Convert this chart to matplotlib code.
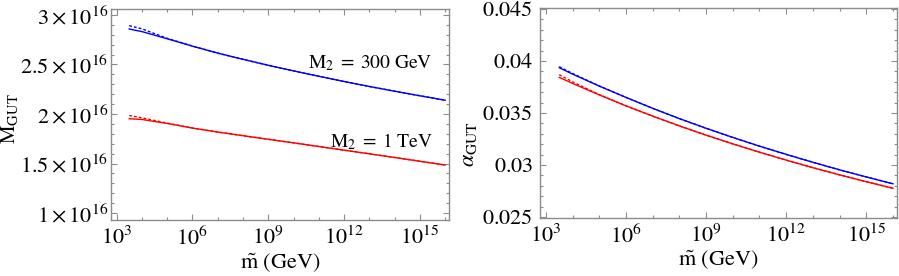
import matplotlib
matplotlib.use("Agg")
import matplotlib.pyplot as plt
from matplotlib.ticker import FixedLocator, FixedFormatter, MultipleLocator, LogLocator, NullFormatter
import numpy as np

plt.rcParams["font.family"] = ["Liberation Serif", "DejaVu Serif"]
plt.rcParams["mathtext.fontset"] = "stix"

# log10 of m-tilde (GeV)
LOG_M = [3.5, 4, 5, 6, 7, 8, 9, 10, 11, 12, 13, 14, 15, 16]

# M_GUT in units of 1e16 GeV
MGUT_300_SOLID = [2.858, 2.832, 2.760, 2.685, 2.615, 2.552, 2.492, 2.435, 2.381, 2.328, 2.278, 2.230, 2.184, 2.139]
MGUT_300_DASHED = [2.892, 2.860, 2.764, 2.686, 2.615, 2.552, 2.492, 2.435, 2.381, 2.328, 2.278, 2.230, 2.184, 2.139]
MGUT_1TEV_SOLID = [1.952, 1.945, 1.905, 1.858, 1.818, 1.781, 1.745, 1.709, 1.672, 1.635, 1.598, 1.561, 1.523, 1.485]
MGUT_1TEV_DASHED = [1.985, 1.962, 1.908, 1.859, 1.818, 1.781, 1.745, 1.709, 1.672, 1.635, 1.598, 1.561, 1.523, 1.485]

# alpha_GUT
ALPHA_300_SOLID = [0.03936, 0.03874, 0.03759, 0.03650, 0.03545, 0.03446, 0.03353, 0.03265, 0.03181, 0.03102, 0.03026, 0.02953, 0.02885, 0.02819]
ALPHA_300_DASHED = [0.03945, 0.03880, 0.03760, 0.03650, 0.03545, 0.03446, 0.03353, 0.03265, 0.03181, 0.03102, 0.03026, 0.02953, 0.02885, 0.02819]
ALPHA_1TEV_SOLID = [0.03843, 0.03785, 0.03674, 0.03569, 0.03470, 0.03376, 0.03287, 0.03203, 0.03123, 0.03047, 0.02974, 0.02905, 0.02839, 0.02776]
ALPHA_1TEV_DASHED = [0.03868, 0.03800, 0.03677, 0.03569, 0.03470, 0.03376, 0.03287, 0.03203, 0.03123, 0.03047, 0.02974, 0.02905, 0.02839, 0.02776]

X_TICKS = [1e3, 1e6, 1e9, 1e12, 1e15]
X_TICK_LABELS = [r"$10^{3}$", r"$10^{6}$", r"$10^{9}$", r"$10^{12}$", r"$10^{15}$"]
MGUT_TICKS = [1.0, 1.5, 2.0, 2.5, 3.0]
MGUT_TICK_LABELS = [r"$1\times10^{16}$", r"$1.5\times10^{16}$", r"$2\times10^{16}$",
                    r"$2.5\times10^{16}$", r"$3\times10^{16}$"]
ALPHA_TICKS = [0.025, 0.03, 0.035, 0.04, 0.045]
ALPHA_TICK_LABELS = [r"$0.025$", r"$0.03$", r"$0.035$", r"$0.04$", r"$0.045$"]

FRAME = "#8c8c8c"
BLUE = "#0000ff"
RED = "#ff0000"
DASH = (0, (2, 1.5))

m = 10.0 ** np.array(LOG_M)

fig = plt.figure(figsize=(8.99, 2.76), dpi=100)
ax1 = fig.add_axes([111 / 899, 1 - 220 / 276, 338 / 899, 211 / 276])
ax2 = fig.add_axes([540 / 899, 1 - 218 / 276, 357 / 899, 210 / 276])


def style_axis(ax):
    ax.set_xscale("log")
    ax.set_xlim(10 ** 2.78, 10 ** 16.15)
    ax.xaxis.set_major_locator(FixedLocator(X_TICKS))
    ax.xaxis.set_major_formatter(FixedFormatter(X_TICK_LABELS))
    ax.xaxis.set_minor_locator(LogLocator(base=10, subs=(1.0,), numticks=40))
    ax.xaxis.set_minor_formatter(NullFormatter())
    for spine in ax.spines.values():
        spine.set_color(FRAME)
        spine.set_linewidth(1.0)
    ax.tick_params(which="both", direction="in", top=True, right=True, color=FRAME, width=0.8)
    ax.tick_params(which="major", length=4.5, labelsize=16)
    ax.tick_params(which="minor", length=2.5)
    ax.tick_params(axis="x", which="major", pad=5)
    ax.set_xlabel(r"$\tilde{\mathrm{m}}\ \mathrm{(GeV)}$", fontsize=16)
    ax.xaxis.set_label_coords(0.5, -0.145)
    ax.xaxis.label.set_va("top")


style_axis(ax1)
ax1.plot(m, MGUT_300_SOLID, color=BLUE, lw=1.0)
ax1.plot(m, MGUT_300_DASHED, color=BLUE, lw=1.0, ls=DASH)
ax1.plot(m, MGUT_1TEV_SOLID, color=RED, lw=1.0)
ax1.plot(m, MGUT_1TEV_DASHED, color=RED, lw=1.0, ls=DASH)
ax1.set_ylim(0.93, 3.06)
ax1.yaxis.set_major_locator(FixedLocator(MGUT_TICKS))
ax1.yaxis.set_major_formatter(FixedFormatter(MGUT_TICK_LABELS))
ax1.yaxis.set_minor_locator(MultipleLocator(0.1))
ax1.tick_params(axis="y", which="major", pad=2)
ax1.text(10 ** 15.5, 2.51, r"$\mathrm{M_2\;=\;300\ GeV}$", ha="right", va="center", fontsize=14)
ax1.text(10 ** 15.5, 1.72, r"$\mathrm{M_2\;=\;1\ TeV}$", ha="right", va="center", fontsize=14)
fig.text(10 / 899, 1 - 119 / 276, r"$\mathrm{M_{GUT}}$", rotation=90, ha="center", va="center", fontsize=15)

style_axis(ax2)
ax2.plot(m, ALPHA_300_SOLID, color=BLUE, lw=1.0)
ax2.plot(m, ALPHA_300_DASHED, color=BLUE, lw=1.0, ls=DASH)
ax2.plot(m, ALPHA_1TEV_SOLID, color=RED, lw=1.0)
ax2.plot(m, ALPHA_1TEV_DASHED, color=RED, lw=1.0, ls=DASH)
ax2.set_ylim(0.0249, 0.0451)
ax2.yaxis.set_major_locator(FixedLocator(ALPHA_TICKS))
ax2.yaxis.set_major_formatter(FixedFormatter(ALPHA_TICK_LABELS))
ax2.yaxis.set_minor_locator(MultipleLocator(0.001))
ax2.tick_params(axis="y", which="major", pad=5)
fig.text(470 / 899, 1 - 144 / 276, r"$\alpha_{\mathrm{GUT}}$", rotation=90, ha="center", va="center", fontsize=16)

fig.savefig("out.png", dpi=100)
